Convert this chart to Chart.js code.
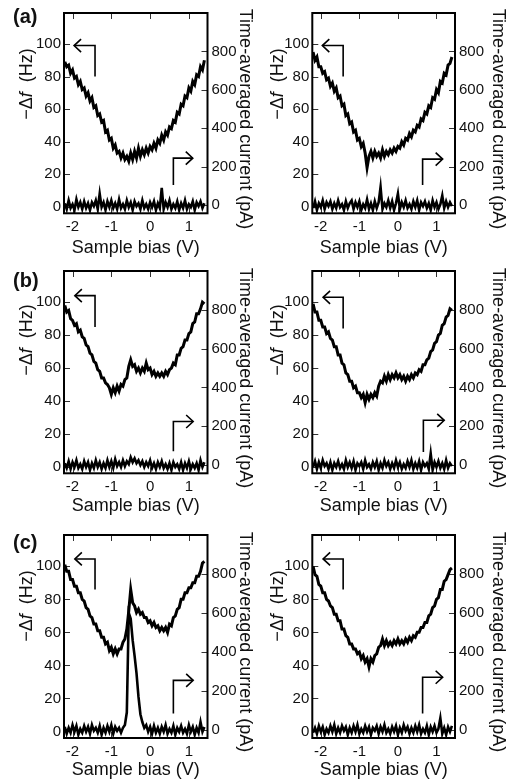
<!DOCTYPE html>
<html>
<head>
<meta charset="utf-8">
<script src="https://cdn.jsdelivr.net/npm/chart.js@4.4.1/dist/chart.umd.min.js"></script>
<style>
  body { margin: 0; background: #fff; width: 513px; height: 779px; overflow: hidden; }
  canvas { position: absolute; }
</style>
</head>
<body>
<canvas id="aL" width="256" height="257" style="left:0;top:0"></canvas>
<canvas id="aR" width="263" height="257" style="left:250px;top:0"></canvas>
<canvas id="bL" width="256" height="257" style="left:0;top:258px"></canvas>
<canvas id="bR" width="263" height="257" style="left:250px;top:258px"></canvas>
<canvas id="cL" width="256" height="257" style="left:0;top:522px"></canvas>
<canvas id="cR" width="263" height="257" style="left:250px;top:522px"></canvas>
<script>
// sample bias (V)
const bias = [
  -2.20, -2.15, -2.10, -2.05, -2.00, -1.95, -1.90, -1.85, -1.80, -1.75,
  -1.70, -1.65, -1.60, -1.55, -1.50, -1.45, -1.40, -1.35, -1.30, -1.25,
  -1.20, -1.15, -1.10, -1.05, -1.00, -0.95, -0.90, -0.85, -0.80, -0.75,
  -0.70, -0.65, -0.60, -0.55, -0.50, -0.45, -0.40, -0.35, -0.30, -0.25,
  -0.20, -0.15, -0.10, -0.05, 0.00, 0.05, 0.10, 0.15, 0.20, 0.25,
  0.30, 0.35, 0.40, 0.45, 0.50, 0.55, 0.60, 0.65, 0.70, 0.75,
  0.80, 0.85, 0.90, 0.95, 1.00, 1.05, 1.10, 1.15, 1.20, 1.25,
  1.30, 1.35, 1.40
];
const xTicks = [-2, -1, 0, 1];
const dfTicks = [0, 20, 40, 60, 80, 100];
const curTicks = [0, 200, 400, 600, 800];

// -Δf (Hz)  and  time-averaged current (pA)
const dfA1 = [
  89, 86, 87, 82, 84, 79, 80, 75, 77, 72,
  73, 68, 70, 65, 67, 61, 62, 56, 57, 52,
  53, 46, 47, 41, 42, 36, 38, 33, 34, 30,
  33, 29, 31, 28, 33, 29, 34, 30, 36, 31,
  35, 32, 36, 33, 37, 35, 39, 36, 41, 39,
  44, 41, 46, 44, 49, 48, 53, 52, 58, 57,
  63, 62, 68, 67, 73, 71, 77, 75, 81, 80,
  86, 84, 90
];
const curA1 = [
  10, -20, 25, -15, 5, -25, 30, -10, 15, -20,
  20, -15, 10, -25, 15, -5, 25, -20, 60, -10,
  15, -25, 20, -10, 25, -15, 10, -20, 30, -15,
  5, -20, 25, -10, 15, -25, 20, -5, 10, -20,
  25, -15, 5, -20, 15, -10, 20, -25, 10, -15,
  90, -20, 15, -10, 25, -20, 5, -15, 20, -25,
  10, -15, 25, -20, 5, -10, 20, -25, 15, -5,
  20, -15, 10
];
const dfA2 = [
  95, 90, 92, 86, 86, 82, 83, 78, 79, 74,
  76, 71, 73, 67, 68, 62, 63, 56, 57, 51,
  52, 46, 47, 41, 42, 37, 39, 33, 24, 31,
  34, 30, 34, 31, 33, 30, 35, 31, 34, 32,
  35, 33, 36, 34, 37, 36, 40, 38, 42, 41,
  45, 43, 47, 46, 50, 49, 54, 53, 58, 57,
  62, 61, 67, 66, 72, 70, 77, 76, 82, 81,
  87, 88, 92
];
const curA2 = [
  -15, 20, -25, 10, -10, 25, -20, 15, -5, 20,
  -20, 10, -15, 25, -10, 5, -25, 20, -15, 10,
  25, -20, 15, -10, 20, -25, 5, -15, 30, -20,
  10, -25, 20, -15, 15, 95, -20, 10, -10, 25,
  -15, 20, -25, 10, 60, -20, 15, -10, 25, -15,
  5, -20, 20, -10, 25, -25, 15, -5, 20, -15,
  10, -25, 25, -10, 15, -20, 5, 50, -15, 20,
  -10, 15, -5
];
const dfB1 = [
  98, 94, 95, 90, 89, 86, 87, 82, 83, 79,
  78, 74, 73, 69, 68, 64, 63, 59, 58, 54,
  54, 51, 50, 48, 44, 48, 45, 49, 46, 50,
  49, 53, 54, 61, 65, 61, 62, 58, 60, 57,
  60, 58, 63, 59, 60, 56, 58, 55, 57, 55,
  57, 55, 58, 56, 59, 60, 63, 62, 68, 68,
  72, 73, 77, 77, 81, 82, 87, 88, 93, 93,
  96, 100, 99
];
const curB1 = [
  10, -15, 20, -20, 15, -10, 25, -15, 5, -20,
  20, -10, 15, -25, 10, -15, 25, -10, 15, -20,
  10, -15, 25, -10, 20, -15, 30, -5, 15, -10,
  25, -5, 20, 5, 40, 15, 35, 10, 25, 0,
  20, -10, 15, -5, 25, -15, 10, -20, 15, -10,
  20, -15, 5, -20, 10, -25, 15, -10, 5, -20,
  15, -25, 10, -15, 20, -20, 5, -15, 10, -25,
  25, -10, 15
];
const dfB2 = [
  99, 94, 94, 89, 89, 85, 85, 81, 82, 78,
  77, 73, 73, 68, 68, 63, 62, 57, 56, 52,
  52, 48, 49, 45, 45, 42, 44, 39, 44, 41,
  44, 42, 45, 43, 49, 52, 51, 55, 52, 56,
  53, 56, 54, 57, 54, 56, 53, 55, 52, 55,
  53, 56, 54, 57, 56, 59, 58, 62, 62, 65,
  66, 70, 71, 75, 76, 80, 81, 86, 87, 91,
  92, 96, 95
];
const curB2 = [
  -10, 20, -20, 15, -15, 25, -5, 10, -20, 15,
  -25, 10, -10, 20, -15, 5, -20, 25, -10, 15,
  -15, 20, -25, 10, -5, 15, -20, 25, -10, 5,
  -20, 15, -10, 20, -25, 10, -15, 25, -5, 15,
  -20, 10, -15, 25, -10, 15, -20, 5, -15, 20,
  -10, 25, -20, 10, -15, 20, -25, 15, -5, 10,
  -20, 60, -25, 15, -10, 20, -15, 10, -20, 25,
  -15, 10, -5
];
const dfC1 = [
  101, 97, 97, 92, 92, 88, 88, 84, 84, 80,
  79, 75, 74, 70, 69, 65, 65, 61, 61, 57,
  57, 53, 54, 49, 51, 47, 50, 47, 50, 50,
  54, 56, 62, 73, 86, 78, 76, 72, 74, 71,
  72, 69, 69, 66, 67, 64, 66, 63, 64, 61,
  63, 61, 63, 60, 65, 64, 69, 70, 74, 75,
  80, 80, 84, 84, 87, 87, 90, 90, 94, 94,
  97, 102, 103
];
const curC1 = [
  15, -20, 10, -15, 25, -10, 20, -25, 5, -15,
  20, -10, 15, -20, 25, -5, 10, -15, 20, -25,
  10, -15, 20, -10, 25, -20, 15, -5, 10, -15,
  10, 25, 90, 600, 570, 460, 380, 290, 170, 80,
  40, 10, 25, -10, 15, -20, 20, -15, 10, -20,
  15, -10, 25, -20, 5, -15, 20, -25, 10, -10,
  20, -15, 5, -20, 25, -10, 15, -25, 10, -15,
  40, -10, 15
];
const dfC2 = [
  100, 95, 94, 89, 88, 84, 84, 80, 79, 76,
  75, 71, 71, 67, 67, 62, 62, 58, 57, 53,
  53, 50, 50, 47, 48, 44, 46, 42, 44, 39,
  44, 42, 46, 47, 51, 52, 56, 52, 55, 52,
  54, 52, 55, 53, 56, 53, 55, 53, 56, 54,
  57, 55, 58, 57, 60, 60, 63, 63, 66, 66,
  70, 71, 75, 76, 80, 81, 86, 86, 91, 92,
  95, 98, 99
];
const curC2 = [
  -15, 10, -20, 20, -10, 15, -25, 5, -15, 20,
  -10, 25, -20, 10, -15, 20, -5, 15, -25, 10,
  -15, 20, -10, 25, -20, 5, -15, 20, -10, 15,
  -25, 10, -5, 20, -20, 15, -10, 25, -15, 5,
  -20, 15, -10, 20, -25, 10, -15, 25, -5, 15,
  -20, 10, -15, 20, -10, 25, -20, 5, -15, 20,
  -25, 15, -10, 20, -15, 5, 60, -20, 10, -25,
  15, -10, 20
];

// guide arrows: [bias at stem, bias at tip, stem start, arrow level]
const arrowDfA1 = [-1.42, -1.96, 80, 99];
const arrowCurA1 = [0.60, 1.10, 105, 245];
const arrowDfA2 = [-1.42, -1.96, 80, 99];
const arrowCurA2 = [0.64, 1.16, 105, 240];
const arrowDfB1 = [-1.42, -1.94, 85, 104];
const arrowCurB1 = [0.60, 1.11, 72, 225];
const arrowDfB2 = [-1.42, -1.94, 84, 103];
const arrowCurB2 = [0.66, 1.20, 68, 231];
const arrowDfC1 = [-1.42, -1.94, 86, 104.5];
const arrowCurC1 = [0.60, 1.11, 84, 254];
const arrowDfC2 = [-1.42, -1.94, 86, 104.5];
const arrowCurC2 = [0.64, 1.16, 84, 270];

Chart.defaults.font.family = '"Liberation Sans", Arial, Helvetica, sans-serif';
Chart.defaults.color = '#111';

const FONT = '"Liberation Sans", Arial, Helvetica, sans-serif';

function line(ctx, x0, y0, x1, y1) {
  ctx.beginPath();
  ctx.moveTo(x0, y0);
  ctx.lineTo(x1, y1);
  ctx.stroke();
}

const framePlugin = {
  id: 'frame',
  beforeDatasetsDraw(chart) {
    const { ctx, chartArea: a, scales: { x, y, y1 } } = chart;
    ctx.save();
    ctx.strokeStyle = '#333';
    ctx.lineWidth = 1;
    xTicks.forEach(v => {
      const px = Math.round(x.getPixelForValue(v)) + 0.5;
      line(ctx, px, a.top, px, a.top + 6);
      line(ctx, px, a.bottom, px, a.bottom - 6);
    });
    dfTicks.forEach(v => {
      const py = Math.round(y.getPixelForValue(v)) + 0.5;
      line(ctx, a.left, py, a.left + 6, py);
    });
    curTicks.forEach(v => {
      const py = Math.round(y1.getPixelForValue(v)) + 0.5;
      line(ctx, a.right, py, a.right - 6, py);
    });
    ctx.restore();
  },
  afterDatasetsDraw(chart, args, o) {
    const { ctx, chartArea: a, scales: { x, y, y1 } } = chart;
    ctx.save();
    ctx.strokeStyle = '#000';
    ctx.lineWidth = 2;
    ctx.strokeRect(a.left, a.top, a.right - a.left, a.bottom - a.top);

    // arrows
    ctx.lineWidth = 1.6;
    [[o.dfArrow, y, -1], [o.curArrow, y1, 1]].forEach(([ar, sc, dir]) => {
      const sx = x.getPixelForValue(ar[0]);
      const tx = x.getPixelForValue(ar[1]);
      const y0 = sc.getPixelForValue(ar[2]);
      const yt = sc.getPixelForValue(ar[3]);
      ctx.beginPath();
      ctx.moveTo(sx, y0);
      ctx.lineTo(sx, yt);
      ctx.lineTo(tx, yt);
      ctx.stroke();
      ctx.beginPath();
      ctx.moveTo(tx - dir * 7, yt - 6.5);
      ctx.lineTo(tx, yt);
      ctx.lineTo(tx - dir * 7, yt + 6.5);
      ctx.stroke();
    });

    ctx.fillStyle = '#111';
    // left title  -Δf (Hz)
    ctx.save();
    ctx.translate(o.dfTitle[0], o.dfTitle[1]);
    ctx.rotate(-Math.PI / 2);
    ctx.textBaseline = 'middle';
    const parts = [['−Δ', '18px ' + FONT], ['f', 'italic 18px ' + FONT], ['  (Hz)', '18px ' + FONT]];
    let w = 0;
    parts.forEach(p => { ctx.font = p[1]; w += ctx.measureText(p[0]).width; });
    let xx = -w / 2;
    parts.forEach(p => { ctx.font = p[1]; ctx.fillText(p[0], xx, 0); xx += ctx.measureText(p[0]).width; });
    ctx.restore();

    // right title
    ctx.save();
    ctx.translate(o.curTitle[0], o.curTitle[1]);
    ctx.rotate(Math.PI / 2);
    ctx.textBaseline = 'middle';
    ctx.textAlign = 'center';
    ctx.font = '18px ' + FONT;
    ctx.fillText('Time-averaged current (pA)', 0, 0);
    ctx.restore();

    // panel label
    if (o.label) {
      ctx.font = 'bold 20px ' + FONT;
      ctx.textBaseline = 'middle';
      ctx.textAlign = 'left';
      ctx.fillText(o.label, 13, o.labelY);
    }
    ctx.restore();
  }
};

function makePanel(id, df, cur, geo, frame) {
  const ctx = document.getElementById(id).getContext('2d');
  const H = ctx.canvas.height;
  const W = ctx.canvas.width;
  new Chart(ctx, {
    type: 'line',
    data: {
      datasets: [{
        data: bias.map((b, i) => ({ x: b, y: df[i] })),
        yAxisID: 'y',
        borderColor: '#000',
        borderWidth: 3,
        borderJoinStyle: 'miter',
        pointRadius: 0,
        tension: 0
      }, {
        data: bias.map((b, i) => ({ x: b, y: cur[i] })),
        yAxisID: 'y1',
        borderColor: '#000',
        borderWidth: 2.6,
        borderJoinStyle: 'miter',
        pointRadius: 0,
        tension: 0
      }]
    },
    options: {
      responsive: false,
      animation: false,
      events: [],
      layout: { padding: { top: geo.top, left: 0, right: 0, bottom: 0 } },
      plugins: { legend: { display: false }, tooltip: { enabled: false }, frame },
      scales: {
        x: {
          type: 'linear',
          min: -2.22,
          max: 1.48,
          afterBuildTicks: s => { s.ticks = xTicks.map(v => ({ value: v })); },
          afterFit: s => { s.height = H - geo.bottom; },
          grid: { display: false, drawTicks: false },
          border: { display: false },
          ticks: { font: { size: 15 }, padding: 5, maxRotation: 0, callback: v => String(v) },
          title: { display: true, text: 'Sample bias (V)', font: { size: 18, lineHeight: 1 }, padding: 0 }
        },
        y: {
          position: 'left',
          min: -4,
          max: 119,
          afterBuildTicks: s => { s.ticks = dfTicks.map(v => ({ value: v })); },
          afterFit: s => { s.width = geo.left; },
          grid: { display: false, drawTicks: false },
          border: { display: false },
          ticks: { font: { size: 15 }, padding: 3, callback: v => String(v) }
        },
        y1: {
          position: 'right',
          min: -42,
          max: 1000,
          afterBuildTicks: s => { s.ticks = curTicks.map(v => ({ value: v })); },
          afterFit: s => { s.width = W - geo.right; },
          grid: { display: false, drawTicks: false },
          border: { display: false },
          ticks: { font: { size: 15 }, padding: 4, callback: v => String(v) }
        }
      }
    },
    plugins: [framePlugin]
  });
}

makePanel('aL', dfA1, curA1, { top: 10.3, bottom: 213.3, left: 64, right: 207.5 },
  { label: '(a)', labelY: 17.5, dfArrow: arrowDfA1, curArrow: arrowCurA1, dfTitle: [27, 84], curTitle: [245, 119] });
makePanel('aR', dfA2, curA2, { top: 10.3, bottom: 213.3, left: 62.3, right: 205 },
  { dfArrow: arrowDfA2, curArrow: arrowCurA2, dfTitle: [28, 84], curTitle: [248, 119] });
makePanel('bL', dfB1, curB1, { top: 12, bottom: 215.3, left: 64, right: 207.5 },
  { label: '(b)', labelY: 23.5, dfArrow: arrowDfB1, curArrow: arrowCurB1, dfTitle: [27, 82], curTitle: [245, 120] });
makePanel('bR', dfB2, curB2, { top: 12, bottom: 215.3, left: 62.3, right: 205 },
  { dfArrow: arrowDfB2, curArrow: arrowCurB2, dfTitle: [28, 82], curTitle: [248, 120] });
makePanel('cL', dfC1, curC1, { top: 12, bottom: 216, left: 64, right: 207.5 },
  { label: '(c)', labelY: 21.5, dfArrow: arrowDfC1, curArrow: arrowCurC1, dfTitle: [27, 84], curTitle: [245, 120] });
makePanel('cR', dfC2, curC2, { top: 12, bottom: 216, left: 62.3, right: 205 },
  { dfArrow: arrowDfC2, curArrow: arrowCurC2, dfTitle: [28, 84], curTitle: [248, 120] });
</script>
</body>
</html>
